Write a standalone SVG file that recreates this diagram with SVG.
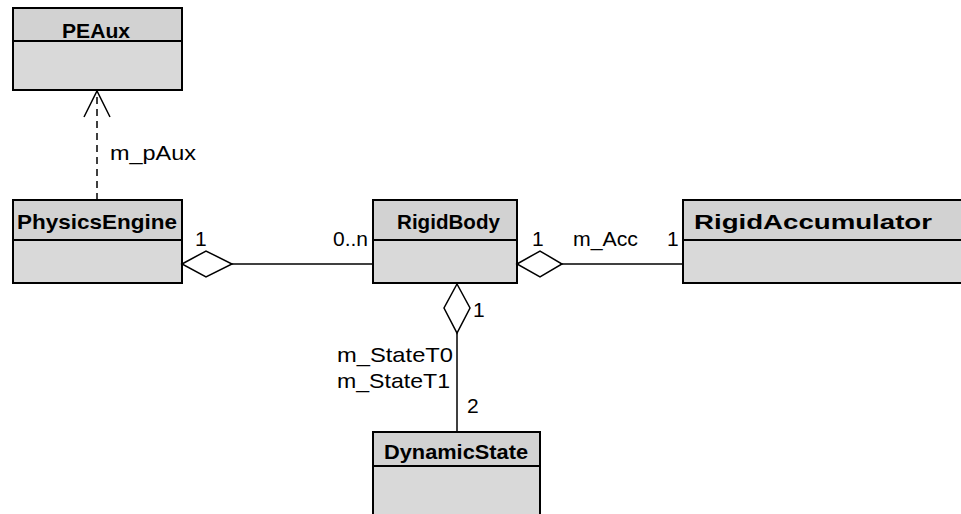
<svg xmlns="http://www.w3.org/2000/svg" width="961" height="514" viewBox="0 0 961 514">
<style>
.box{fill:#d9d9d9;stroke:#000;stroke-width:2}
.hdr{fill:#d2d2d2;stroke:none}
.div{stroke:#000;stroke-width:2}
.name{font-family:"Liberation Sans",Arial,sans-serif;font-weight:bold;font-size:21px;fill:#000}
.lbl{font-family:"Liberation Sans",Arial,sans-serif;font-size:21px;fill:#000}
.ln{stroke:#000;stroke-width:1.5;fill:none}
.dia{stroke:#000;stroke-width:1.5;fill:#fff}
</style>
<rect width="961" height="514" fill="#fff"/>
<g id="PEAux">
<rect class="box" x="13" y="8" width="169" height="82"/>
<rect class="hdr" x="14" y="9" width="167" height="32"/>
<line class="div" x1="13" y1="41" x2="182" y2="41"/>
<text class="name" x="62" y="38" textLength="68" lengthAdjust="spacingAndGlyphs">PEAux</text>
</g>
<g id="PhysicsEngine">
<rect class="box" x="13" y="200" width="169" height="83"/>
<rect class="hdr" x="14" y="201" width="167" height="39"/>
<line class="div" x1="13" y1="240" x2="182" y2="240"/>
<text class="name" x="17" y="229" textLength="160" lengthAdjust="spacingAndGlyphs">PhysicsEngine</text>
</g>
<g id="RigidBody">
<rect class="box" x="373" y="200" width="144" height="83"/>
<rect class="hdr" x="374" y="201" width="142" height="39"/>
<line class="div" x1="373" y1="240" x2="517" y2="240"/>
<text class="name" x="397" y="229" textLength="103" lengthAdjust="spacingAndGlyphs">RigidBody</text>
</g>
<g id="RigidAccumulator">
<rect class="box" x="683" y="200" width="290" height="83"/>
<rect class="hdr" x="684" y="201" width="288" height="39"/>
<line class="div" x1="683" y1="240" x2="973" y2="240"/>
<text class="name" x="694" y="229" textLength="238" lengthAdjust="spacingAndGlyphs">RigidAccumulator</text>
</g>
<g id="DynamicState">
<rect class="box" x="373" y="432" width="167" height="95"/>
<rect class="hdr" x="374" y="433" width="165" height="33"/>
<line class="div" x1="373" y1="466" x2="540" y2="466"/>
<text class="name" x="384" y="459" textLength="144" lengthAdjust="spacingAndGlyphs">DynamicState</text>
</g>
<g id="connectors">
<line class="ln" x1="97" y1="200" x2="97" y2="92" stroke-dasharray="7,5"/>
<polyline class="ln" points="84,117 97,91 110,117"/>
<text class="lbl" x="110" y="160" textLength="86" lengthAdjust="spacingAndGlyphs">m_pAux</text>
<line class="ln" x1="232" y1="264" x2="373" y2="264"/>
<polygon class="dia" points="182,264 206,251 232,264 206,277"/>
<text class="lbl" x="195" y="246">1</text>
<text class="lbl" x="368" y="246" text-anchor="end">0..n</text>
<line class="ln" x1="562" y1="264" x2="683" y2="264"/>
<polygon class="dia" points="517,264 540,251 562,264 540,277"/>
<text class="lbl" x="532" y="246">1</text>
<text class="lbl" x="573" y="246" textLength="65" lengthAdjust="spacingAndGlyphs">m_Acc</text>
<text class="lbl" x="667" y="246">1</text>
<line class="ln" x1="457" y1="333" x2="457" y2="432"/>
<polygon class="dia" points="457,284 470,308 457,333 444,308"/>
<text class="lbl" x="473" y="317">1</text>
<text class="lbl" x="337" y="362" textLength="116" lengthAdjust="spacingAndGlyphs">m_StateT0</text>
<text class="lbl" x="337" y="388" textLength="113" lengthAdjust="spacingAndGlyphs">m_StateT1</text>
<text class="lbl" x="467" y="413">2</text>
</g>
</svg>
